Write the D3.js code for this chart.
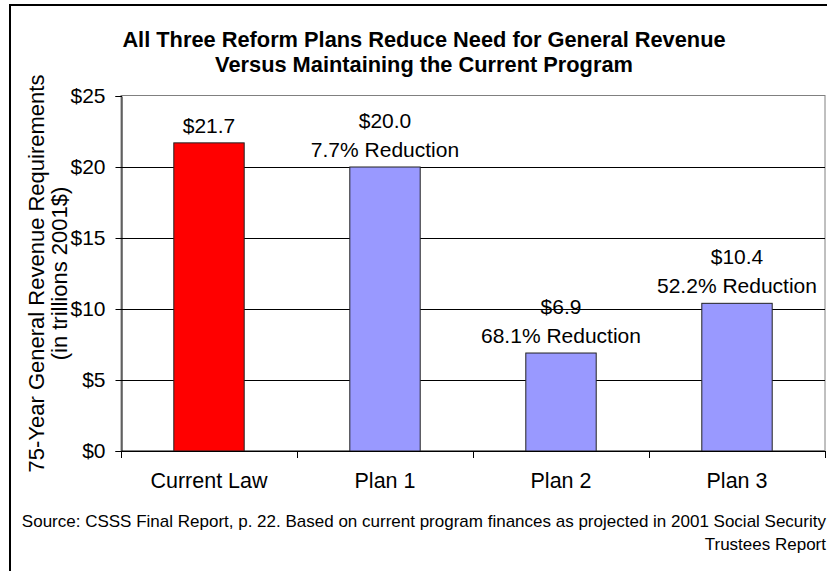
<!DOCTYPE html>
<html>
<head>
<meta charset="utf-8">
<script src="https://cdn.jsdelivr.net/npm/d3@7"></script>
<style>
body { margin: 0; background: #fff; }
svg { display: block; font-family: "Liberation Sans", Arial, sans-serif; }
</style>
</head>
<body>
<div id="chart"></div>
<script>
var categories = ['Current Law', 'Plan 1', 'Plan 2', 'Plan 3'];
var values = [21.7, 20.0, 6.9, 10.4];
var reductions = ['', '7.7% Reduction', '68.1% Reduction', '52.2% Reduction'];
var yTicks = [0, 5, 10, 15, 20, 25];

var width = 827,
	height = 571;

var svg = d3.select('#chart').append('svg')
	.attr('width', width)
	.attr('height', height);

// outer frame
svg.append('rect')
	.attr('x', 10).attr('y', 5)
	.attr('width', 840).attr('height', 600)
	.attr('fill', 'none')
	.attr('stroke', '#000')
	.attr('stroke-width', 2);

var plotLeft = 121, plotRight = 825, plotTop = 96, plotBottom = 451;

var x = d3.scaleBand()
	.domain(categories)
	.range([plotLeft, plotRight])
	.paddingInner(0.6)
	.paddingOuter(0.3);

var y = d3.scaleLinear()
	.domain([0, 25])
	.range([plotBottom, plotTop]);

// plot area border
svg.append('rect')
	.attr('x', plotLeft).attr('y', plotTop - 0.5)
	.attr('width', plotRight - plotLeft).attr('height', plotBottom - plotTop)
	.attr('fill', 'none')
	.attr('stroke', '#808080');

// gridlines
svg.append('g')
	.selectAll('line')
	.data(yTicks.filter(d => d > 0 && d < 25))
	.enter().append('line')
	.attr('x1', plotLeft).attr('x2', plotRight)
	.attr('y1', d => Math.round(y(d)) + 0.5).attr('y2', d => Math.round(y(d)) + 0.5)
	.attr('stroke', '#000');

// bars
svg.append('g')
	.selectAll('rect')
	.data(values)
	.enter().append('rect')
	.attr('x', (d, i) => x(categories[i]))
	.attr('y', d => y(d))
	.attr('width', x.bandwidth())
	.attr('height', d => plotBottom - y(d))
	.attr('fill', (d, i) => i === 0 ? '#ff0000' : '#9999ff')
	.attr('stroke', '#222')
	.attr('stroke-width', 1);

// y axis
var yAxis = svg.append('g')
	.attr('transform', 'translate(' + (plotLeft + 0.5) + ',0)')
	.call(d3.axisLeft(y).tickValues(yTicks).tickSize(6).tickPadding(10)
		.tickFormat(d => '$' + d));
yAxis.select('.domain').attr('stroke', '#000');
yAxis.selectAll('.tick line').attr('stroke', '#000');
yAxis.selectAll('text').attr('font-size', 21).attr('fill', '#000')
	.attr('font-family', '"Liberation Sans", Arial, sans-serif');

// x axis
var xAxis = svg.append('g')
	.attr('transform', 'translate(0,' + plotBottom + ')')
	.call(d3.axisBottom(x).tickSize(0).tickPadding(22));
xAxis.select('.domain').attr('stroke', '#000').attr('d', 'M' + plotLeft + ',0.5H' + plotRight);
xAxis.selectAll('text').attr('font-size', 21.5).attr('fill', '#000')
	.attr('font-family', '"Liberation Sans", Arial, sans-serif');

var step = x.step();
svg.append('g')
	.selectAll('line')
	.data(d3.range(categories.length + 1))
	.enter().append('line')
	.attr('x1', i => Math.round(plotLeft + i * step) + 0.5).attr('x2', i => Math.round(plotLeft + i * step) + 0.5)
	.attr('y1', plotBottom).attr('y2', plotBottom + 7)
	.attr('stroke', '#000');

// value labels
var labels = svg.append('g')
	.attr('font-size', 21)
	.attr('text-anchor', 'middle')
	.attr('fill', '#000');

values.forEach(function(v, i) {
	var cx = x(categories[i]) + x.bandwidth() / 2;
	var yy = y(v) - 10;
	if (reductions[i]) {
		labels.append('text').attr('x', cx).attr('y', yy).text(reductions[i]);
		yy -= 29;
	}
	labels.append('text').attr('x', cx).attr('y', yy).text('$' + v.toFixed(1));
});

// title
var title = svg.append('g')
	.attr('font-size', 21.8)
	.attr('font-weight', 'bold')
	.attr('text-anchor', 'middle');
title.append('text').attr('x', 424).attr('y', 47)
	.text('All Three Reform Plans Reduce Need for General Revenue');
title.append('text').attr('x', 424).attr('y', 72)
	.text('Versus Maintaining the Current Program');

// y axis title
var yt = svg.append('g')
	.attr('font-size', 22)
	.attr('text-anchor', 'middle');
yt.append('text')
	.attr('transform', 'translate(44,' + ((plotTop + plotBottom) / 2) + ') rotate(-90)')
	.text('75-Year General Revenue Requirements');
yt.append('text')
	.attr('transform', 'translate(67,' + ((plotTop + plotBottom) / 2) + ') rotate(-90)')
	.text('(in trillions 2001$)');

// source note
var src = svg.append('g')
	.attr('font-size', 17)
	.attr('text-anchor', 'end');
src.append('text').attr('x', 826).attr('y', 527)
	.text('Source: CSSS Final Report, p. 22. Based on current program finances as projected in 2001 Social Security');
src.append('text').attr('x', 826).attr('y', 550)
	.text('Trustees Report');
</script>
</body>
</html>
